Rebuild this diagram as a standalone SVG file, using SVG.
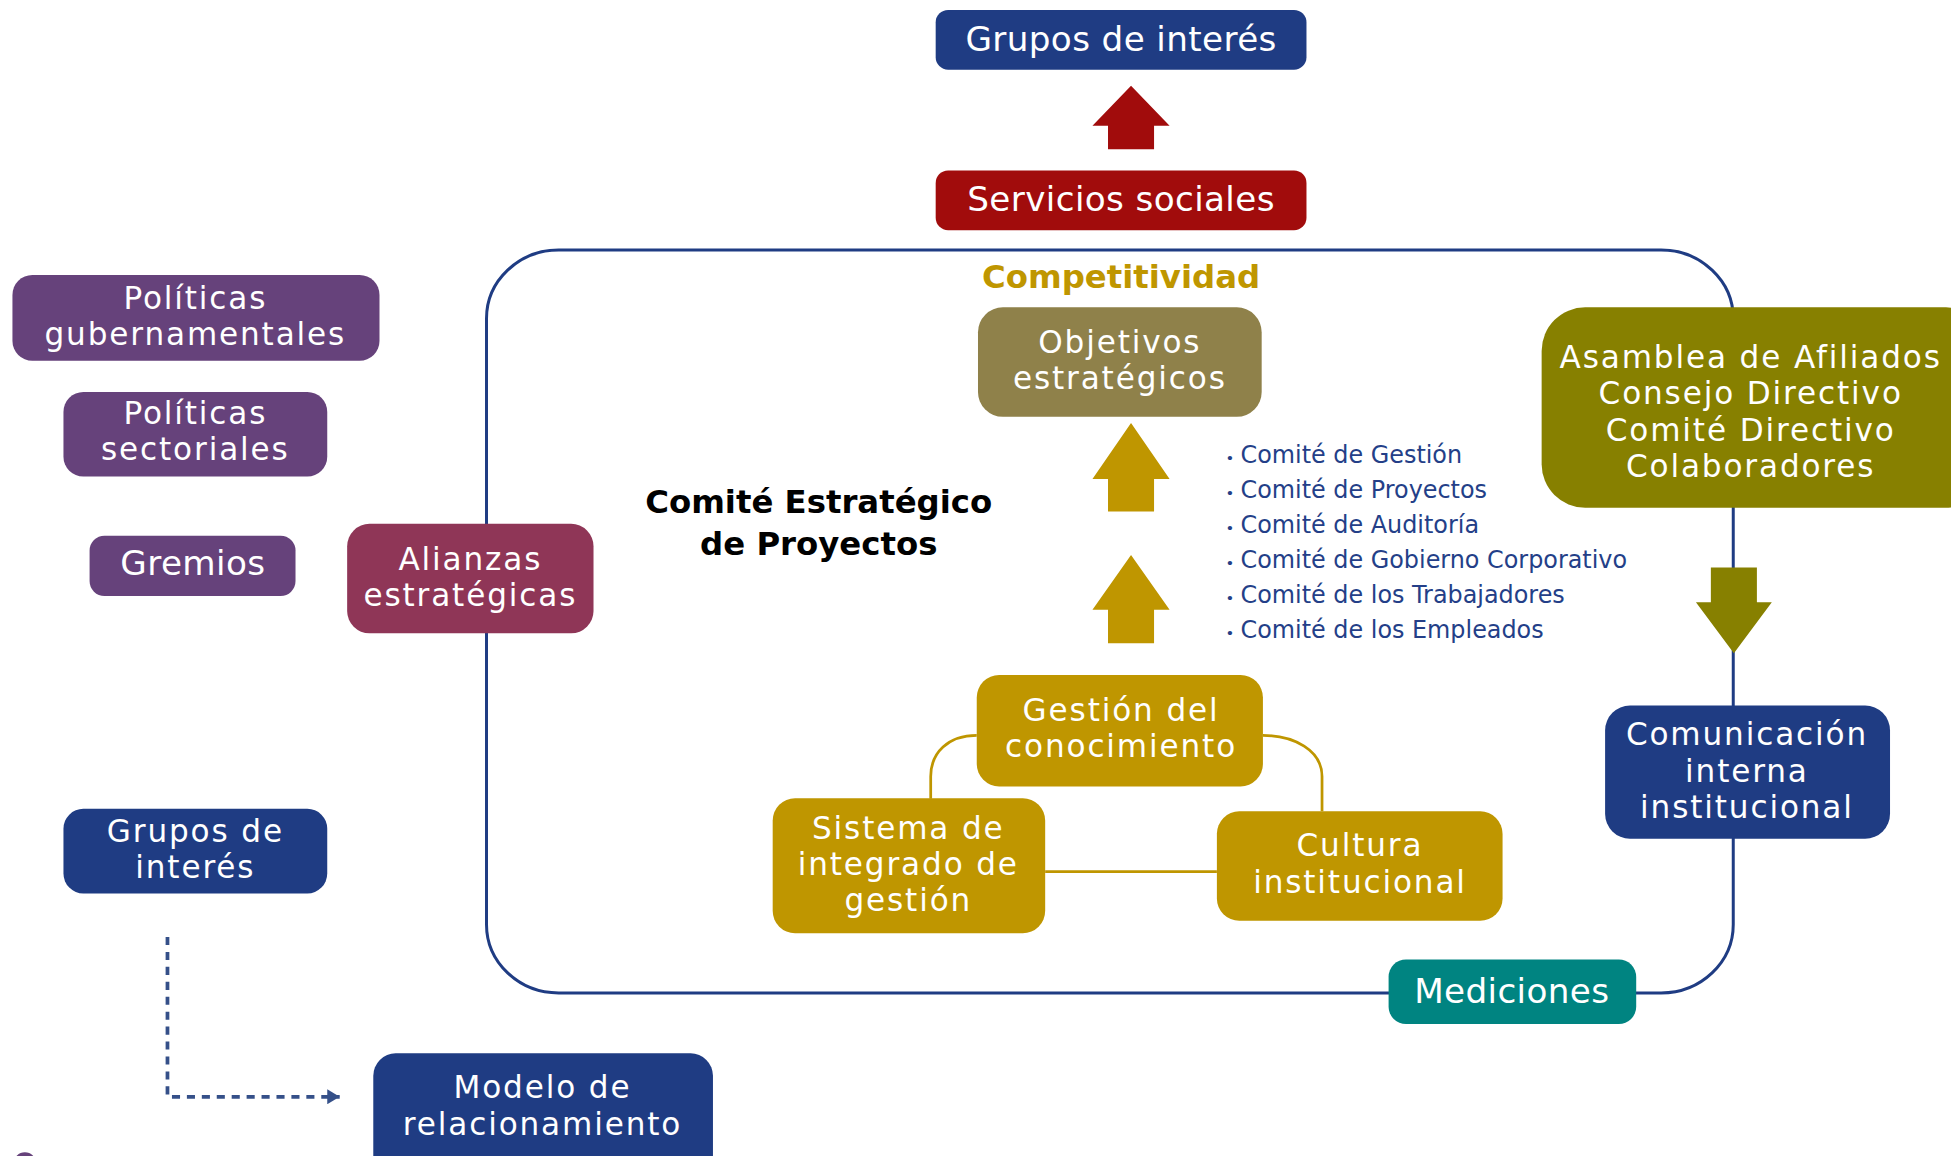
<svg xmlns="http://www.w3.org/2000/svg" width="1951" height="1156" viewBox="0 0 1951 1156">
<defs>
<style>
.t1{font-family:"DejaVu Sans","Liberation Sans",sans-serif;font-size:27.5px;letter-spacing:0.3px;fill:#ffffff;text-anchor:middle}
.t{font-family:"DejaVu Sans","Liberation Sans",sans-serif;font-size:25px;letter-spacing:1.5px;fill:#ffffff;text-anchor:middle}
.b{font-family:"DejaVu Sans","Liberation Sans",sans-serif;font-weight:bold;font-size:26px;text-anchor:middle}
.li{font-family:"DejaVu Sans","Liberation Sans",sans-serif;font-size:19.2px;fill:#243f88}
.blue{fill:#1f3c83}
.red{fill:#a10c0c}
.gold{fill:#bf9600}
.olive{fill:#878000}
.brown{fill:#8f814a}
.purple{fill:#66427b}
.maroon{fill:#8f3657}
.teal{fill:#008481}
.gline{fill:none;stroke:#bf9600;stroke-width:2.2}
</style>
<marker id="ah" viewBox="0 0 10 12" refX="10" refY="6" markerWidth="10" markerHeight="12" orient="auto" markerUnits="userSpaceOnUse">
<path d="M0 0 L10 6 L0 12 Z" fill="#355089"/>
</marker>
</defs>
<rect width="1951" height="1156" fill="#ffffff"/>
<g transform="scale(1.24426 1.24435)">
<g id="frame">
<rect x="391" y="201" width="1002" height="597" rx="58" ry="55" fill="none" stroke="#1f3c83" stroke-width="2.4"/>
</g>
<g id="connectors">
<path class="gline" d="M785 591 C762 591 748 605 748 624 V642"/>
<path class="gline" d="M1015 591 C1040 591 1062.5 603 1062.5 624 V652"/>
<path class="gline" d="M840 700.5 H978"/>
<path class="red" d="M909 69 L940 101 L927.5 101 L927.5 120 L890.5 120 L890.5 101 L878 101 Z"/>
<path class="gold" d="M909 340 L940 385 L927.5 385 L927.5 411 L890.5 411 L890.5 385 L878 385 Z"/>
<path class="gold" d="M909 446 L940 490 L927.5 490 L927.5 517 L890.5 517 L890.5 490 L878 490 Z"/>
<path class="olive" d="M1375 456 L1412 456 L1412 484 L1424 484 L1393.5 525 L1363 484 L1375 484 Z"/>
<path d="M134.6 753 V881.4 H273" fill="none" stroke="#355089" stroke-width="3" stroke-dasharray="6.5 5.5" marker-end="url(#ah)"/>
</g>
<g id="grupos-top">
<rect class="blue" x="752" y="8" width="298" height="48" rx="10"/>
<text class="t1" x="901" y="41">Grupos de interés</text>
</g>
<g id="servicios">
<rect class="red" x="752" y="137" width="298" height="48" rx="10"/>
<text class="t1" x="901" y="169.5">Servicios sociales</text>
</g>
<g id="competitividad">
<text class="b" x="901" y="231.5" fill="#bf9600">Competitividad</text>
</g>
<g id="objetivos">
<rect class="brown" x="786" y="247" width="228" height="88" rx="20"/>
<text class="t" x="900" y="283.5"><tspan x="900">Objetivos</tspan><tspan x="900" dy="29.3">estratégicos</tspan></text>
</g>
<g id="comite">
<text class="b" x="658" y="412.5" fill="#000000"><tspan x="658">Comité Estratégico</tspan><tspan x="658" dy="33.5">de Proyectos</tspan></text>
</g>
<g id="comites-lista">
<text class="li" x="985" y="372"><tspan font-size="12">•</tspan><tspan x="997">Comité de Gestión</tspan></text>
<text class="li" x="985" y="400"><tspan font-size="12">•</tspan><tspan x="997">Comité de Proyectos</tspan></text>
<text class="li" x="985" y="428.3"><tspan font-size="12">•</tspan><tspan x="997">Comité de Auditoría</tspan></text>
<text class="li" x="985" y="456.4"><tspan font-size="12">•</tspan><tspan x="997">Comité de Gobierno Corporativo</tspan></text>
<text class="li" x="985" y="484.5"><tspan font-size="12">•</tspan><tspan x="997">Comité de los Trabajadores</tspan></text>
<text class="li" x="985" y="512.5"><tspan font-size="12">•</tspan><tspan x="997">Comité de los Empleados</tspan></text>
</g>
<g id="asamblea">
<rect class="olive" x="1239" y="247" width="360" height="161" rx="35"/>
<text class="t" x="1407" y="295.5"><tspan x="1407">Asamblea de Afiliados</tspan><tspan x="1407" dy="29.3">Consejo Directivo</tspan><tspan x="1407" dy="29.3">Comité Directivo</tspan><tspan x="1407" dy="29.3">Colaboradores</tspan></text>
</g>
<g id="comunicacion">
<rect class="blue" x="1290" y="567" width="229" height="107" rx="20"/>
<text class="t" x="1404" y="598.9"><tspan x="1404">Comunicación</tspan><tspan x="1404" dy="29.3">interna</tspan><tspan x="1404" dy="29.3">institucional</tspan></text>
</g>
<g id="mediciones">
<rect class="teal" x="1116" y="771" width="199" height="52" rx="14"/>
<text class="t1" x="1215" y="806">Mediciones</text>
</g>
<g id="politicas-gub">
<rect class="purple" x="10" y="221" width="295" height="69" rx="16"/>
<text class="t" x="157" y="248.3"><tspan x="157">Políticas</tspan><tspan x="157" dy="29.3">gubernamentales</tspan></text>
</g>
<g id="politicas-sec">
<rect class="purple" x="51" y="315" width="212" height="68" rx="16"/>
<text class="t" x="157" y="340.5"><tspan x="157">Políticas</tspan><tspan x="157" dy="29.3">sectoriales</tspan></text>
</g>
<g id="gremios">
<rect class="purple" x="72" y="430.5" width="165.5" height="48.5" rx="12"/>
<text class="t1" x="155" y="462">Gremios</text>
</g>
<g id="alianzas">
<rect class="maroon" x="279" y="421" width="198" height="88" rx="18"/>
<text class="t" x="378" y="457.8"><tspan x="378">Alianzas</tspan><tspan x="378" dy="29.3">estratégicas</tspan></text>
</g>
<g id="gestion">
<rect class="gold" x="785" y="542.5" width="230" height="89.5" rx="18"/>
<text class="t" x="901" y="579.3"><tspan x="901">Gestión del</tspan><tspan x="901" dy="29.3">conocimiento</tspan></text>
</g>
<g id="sistema">
<rect class="gold" x="621" y="641.5" width="219" height="108.5" rx="18"/>
<text class="t" x="730" y="673.9"><tspan x="730">Sistema de</tspan><tspan x="730" dy="29.3">integrado de</tspan><tspan x="730" dy="29.3">gestión</tspan></text>
</g>
<g id="cultura">
<rect class="gold" x="978" y="652" width="229.6" height="88" rx="18"/>
<text class="t" x="1093" y="688.2"><tspan x="1093">Cultura</tspan><tspan x="1093" dy="29.3">institucional</tspan></text>
</g>
<g id="grupos-left">
<rect class="blue" x="51" y="650" width="212" height="68" rx="16"/>
<text class="t" x="157" y="676.6"><tspan x="157">Grupos de</tspan><tspan x="157" dy="29.3">interés</tspan></text>
</g>
<g id="modelo">
<rect class="blue" x="300" y="846.5" width="273" height="100" rx="18"/>
<text class="t" x="436" y="882.6"><tspan x="436">Modelo de</tspan><tspan x="436" dy="29.3">relacionamiento</tspan></text>
</g>
<g id="corner-fragment">
<circle class="purple" cx="20" cy="935" r="9"/>
</g>
</g>
</svg>
